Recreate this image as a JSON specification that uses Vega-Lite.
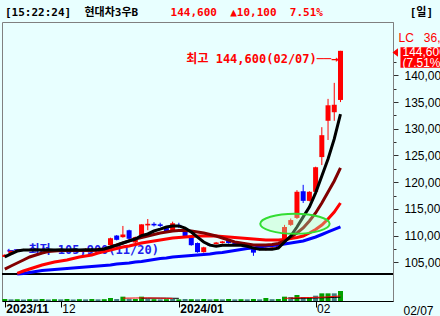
{
  "$schema": "https://vega.github.io/schema/vega-lite/v6.json",
  "width": 391,
  "height": 279,
  "autosize": "none",
  "padding": {"left": 2, "top": 22, "right": 47, "bottom": 15},
  "background": "#e8ffff",
  "title": {
    "text": "[15:22:24]\u00a0\u00a0현대차3우B\u00a0\u00a0\u00a0\u00a0\u00a0\u00a0\u00a0\u00a0\u00a0\u00a0\u00a0\u00a0\u00a0\u00a0\u00a0\u00a0\u00a0\u00a0\u00a0\u00a0\u00a0\u00a0\u00a0\u00a0\u00a0\u00a0\u00a0\u00a0\u00a0\u00a0\u00a0\u00a0\u00a0\u00a0\u00a0\u00a0\u00a0\u00a0\u00a0\u00a0\u00a0[일]",
    "subtitle": "\u200b\u00a0\u00a0\u00a0\u00a0\u00a0\u00a0\u00a0\u00a0\u00a0\u00a0\u00a0\u00a0\u00a0\u00a0\u00a0\u00a0\u00a0\u00a0\u00a0\u00a0\u00a0\u00a0\u00a0\u00a0\u00a0144,600\u00a0\u00a0▲10,100\u00a0\u00a07.51%",
    "anchor": "start",
    "frame": "group",
    "dx": 3,
    "offset": 4,
    "font": "DejaVu Sans Mono, Noto Sans CJK KR",
    "fontSize": 11,
    "fontWeight": "bold",
    "color": "#000000",
    "subtitleFont": "DejaVu Sans Mono, Noto Sans CJK KR",
    "subtitleFontSize": 11,
    "subtitleFontWeight": "bold",
    "subtitleColor": "#ff0000",
    "subtitlePadding": -11
  },
  "data": {"values": [
    {"date":"2023-11-20","open":106000,"high":106500,"low":105900,"close":106400,"ma5":106000,"ma10":103700,"ma20":null,"ma60":null,"volume":12000,"volTrend":"up","volMa5":null,"volMa20":null},
    {"date":"2023-11-21","open":106500,"high":107200,"low":106400,"close":107100,"ma5":106550,"ma10":104300,"ma20":null,"ma60":null,"volume":10000,"volTrend":"down","volMa5":null,"volMa20":null},
    {"date":"2023-11-22","open":107100,"high":107400,"low":107000,"close":107300,"ma5":107100,"ma10":104860,"ma20":102900,"ma60":102800,"volume":11000,"volTrend":"up","volMa5":null,"volMa20":null},
    {"date":"2023-11-23","open":107300,"high":107500,"low":107200,"close":107400,"ma5":107300,"ma10":105420,"ma20":103360,"ma60":102900,"volume":9000,"volTrend":"down","volMa5":null,"volMa20":null},
    {"date":"2023-11-24","open":107400,"high":107500,"low":107200,"close":107300,"ma5":107300,"ma10":105990,"ma20":103740,"ma60":103080,"volume":11000,"volTrend":"up","volMa5":null,"volMa20":null},
    {"date":"2023-11-27","open":107300,"high":107500,"low":107200,"close":107400,"ma5":107350,"ma10":106360,"ma20":104110,"ma60":103270,"volume":10000,"volTrend":"down","volMa5":null,"volMa20":null},
    {"date":"2023-11-28","open":107400,"high":107500,"low":107200,"close":107300,"ma5":107300,"ma10":106740,"ma20":104490,"ma60":103460,"volume":12000,"volTrend":"up","volMa5":null,"volMa20":null},
    {"date":"2023-11-29","open":107300,"high":107500,"low":107200,"close":107400,"ma5":107350,"ma10":107020,"ma20":104770,"ma60":103550,"volume":9000,"volTrend":"down","volMa5":null,"volMa20":null},
    {"date":"2023-11-30","open":107400,"high":107500,"low":107200,"close":107300,"ma5":107300,"ma10":107110,"ma20":105050,"ma60":103640,"volume":11000,"volTrend":"up","volMa5":null,"volMa20":null},
    {"date":"2023-12-01","open":107300,"high":107500,"low":107200,"close":107400,"ma5":107350,"ma10":107200,"ma20":105240,"ma60":103740,"volume":10000,"volTrend":"down","volMa5":null,"volMa20":null},
    {"date":"2023-12-04","open":107400,"high":107500,"low":107200,"close":107300,"ma5":107300,"ma10":107200,"ma20":105420,"ma60":103830,"volume":12000,"volTrend":"up","volMa5":null,"volMa20":null},
    {"date":"2023-12-05","open":107300,"high":107500,"low":107200,"close":107400,"ma5":107350,"ma10":107200,"ma20":105700,"ma60":103930,"volume":9000,"volTrend":"down","volMa5":null,"volMa20":null},
    {"date":"2023-12-06","open":107400,"high":107500,"low":107200,"close":107300,"ma5":107300,"ma10":107200,"ma20":105990,"ma60":104020,"volume":11000,"volTrend":"up","volMa5":null,"volMa20":null},
    {"date":"2023-12-07","open":107300,"high":107600,"low":107200,"close":107500,"ma5":107350,"ma10":107200,"ma20":106170,"ma60":104110,"volume":10000,"volTrend":"down","volMa5":null,"volMa20":null},
    {"date":"2023-12-08","open":107500,"high":107600,"low":107300,"close":107400,"ma5":107350,"ma10":107200,"ma20":106360,"ma60":104210,"volume":12000,"volTrend":"up","volMa5":null,"volMa20":null},
    {"date":"2023-12-11","open":107400,"high":107700,"low":107300,"close":107600,"ma5":107400,"ma10":107250,"ma20":106740,"ma60":104300,"volume":10000,"volTrend":"down","volMa5":null,"volMa20":null},
    {"date":"2023-12-12","open":107600,"high":107700,"low":107400,"close":107500,"ma5":107500,"ma10":107500,"ma20":107020,"ma60":104390,"volume":11000,"volTrend":"up","volMa5":null,"volMa20":null},
    {"date":"2023-12-13","open":108200,"high":109600,"low":108100,"close":109500,"ma5":107850,"ma10":107780,"ma20":107300,"ma60":104490,"volume":18000,"volTrend":"up","volMa5":null,"volMa20":null},
    {"date":"2023-12-14","open":110000,"high":110100,"low":109100,"close":109200,"ma5":108200,"ma10":108230,"ma20":107580,"ma60":104680,"volume":12000,"volTrend":"down","volMa5":null,"volMa20":null},
    {"date":"2023-12-15","open":109700,"high":111800,"low":109600,"close":110200,"ma5":108600,"ma10":108600,"ma20":107860,"ma60":104770,"volume":26000,"volTrend":"up","volMa5":17000,"volMa20":null},
    {"date":"2023-12-18","open":111000,"high":111100,"low":109200,"close":109400,"ma5":109000,"ma10":108980,"ma20":108050,"ma60":104860,"volume":14000,"volTrend":"down","volMa5":17500,"volMa20":null},
    {"date":"2023-12-19","open":108700,"high":109800,"low":108600,"close":109700,"ma5":109350,"ma10":109350,"ma20":108330,"ma60":105050,"volume":12000,"volTrend":"up","volMa5":18000,"volMa20":null},
    {"date":"2023-12-20","open":109800,"high":112100,"low":109700,"close":112100,"ma5":110000,"ma10":109640,"ma20":108610,"ma60":105140,"volume":26000,"volTrend":"up","volMa5":18500,"volMa20":16500},
    {"date":"2023-12-21","open":111900,"high":113100,"low":111000,"close":112200,"ma5":110300,"ma10":109920,"ma20":108800,"ma60":105330,"volume":14000,"volTrend":"down","volMa5":18500,"volMa20":17000},
    {"date":"2023-12-22","open":112200,"high":112500,"low":111700,"close":111900,"ma5":110850,"ma10":110200,"ma20":108980,"ma60":105520,"volume":11000,"volTrend":"up","volMa5":18000,"volMa20":17000},
    {"date":"2023-12-26","open":112100,"high":112400,"low":111600,"close":111800,"ma5":111200,"ma10":110480,"ma20":109170,"ma60":105710,"volume":10000,"volTrend":"down","volMa5":17500,"volMa20":17000},
    {"date":"2023-12-27","open":111400,"high":111500,"low":110600,"close":110700,"ma5":111600,"ma10":110670,"ma20":109360,"ma60":105800,"volume":11000,"volTrend":"up","volMa5":16500,"volMa20":17000},
    {"date":"2023-12-28","open":111000,"high":112600,"low":110800,"close":112300,"ma5":111800,"ma10":110860,"ma20":109550,"ma60":105990,"volume":12000,"volTrend":"down","volMa5":15500,"volMa20":16500},
    {"date":"2024-01-02","open":112000,"high":112400,"low":111400,"close":111700,"ma5":111800,"ma10":110950,"ma20":109640,"ma60":106080,"volume":10000,"volTrend":"up","volMa5":null,"volMa20":16000},
    {"date":"2024-01-03","open":110700,"high":110900,"low":109600,"close":109700,"ma5":111400,"ma10":110950,"ma20":109730,"ma60":106170,"volume":12000,"volTrend":"down","volMa5":null,"volMa20":null},
    {"date":"2024-01-04","open":109700,"high":109800,"low":108100,"close":108200,"ma5":110650,"ma10":110860,"ma20":109830,"ma60":106270,"volume":11000,"volTrend":"up","volMa5":null,"volMa20":null},
    {"date":"2024-01-05","open":108600,"high":108700,"low":106800,"close":106900,"ma5":109700,"ma10":110670,"ma20":109920,"ma60":106360,"volume":10000,"volTrend":"down","volMa5":null,"volMa20":null},
    {"date":"2024-01-08","open":106900,"high":107900,"low":106800,"close":107800,"ma5":108800,"ma10":110480,"ma20":109920,"ma60":106450,"volume":12000,"volTrend":"up","volMa5":null,"volMa20":null},
    {"date":"2024-01-09","open":108400,"high":108500,"low":108000,"close":108100,"ma5":108200,"ma10":110200,"ma20":109920,"ma60":106550,"volume":10000,"volTrend":"down","volMa5":null,"volMa20":null},
    {"date":"2024-01-10","open":108400,"high":108800,"low":108300,"close":108700,"ma5":108000,"ma10":109920,"ma20":109920,"ma60":106740,"volume":11000,"volTrend":"up","volMa5":null,"volMa20":null},
    {"date":"2024-01-11","open":108600,"high":109000,"low":108500,"close":108900,"ma5":108200,"ma10":109540,"ma20":109830,"ma60":106830,"volume":10000,"volTrend":"down","volMa5":null,"volMa20":null},
    {"date":"2024-01-12","open":109100,"high":109200,"low":108500,"close":108600,"ma5":108200,"ma10":109170,"ma20":109730,"ma60":107020,"volume":12000,"volTrend":"up","volMa5":null,"volMa20":null},
    {"date":"2024-01-15","open":108600,"high":108700,"low":108200,"close":108300,"ma5":108200,"ma10":108800,"ma20":109640,"ma60":107200,"volume":10000,"volTrend":"down","volMa5":null,"volMa20":null},
    {"date":"2024-01-16","open":108300,"high":108500,"low":108100,"close":108400,"ma5":108200,"ma10":108600,"ma20":109550,"ma60":107390,"volume":11000,"volTrend":"up","volMa5":null,"volMa20":null},
    {"date":"2024-01-17","open":108400,"high":108500,"low":107900,"close":108000,"ma5":108000,"ma10":108420,"ma20":109450,"ma60":107580,"volume":10000,"volTrend":"down","volMa5":null,"volMa20":null},
    {"date":"2024-01-18","open":107500,"high":107600,"low":106200,"close":106800,"ma5":107650,"ma10":108230,"ma20":109360,"ma60":107670,"volume":12000,"volTrend":"up","volMa5":null,"volMa20":null},
    {"date":"2024-01-19","open":107700,"high":107800,"low":107200,"close":107300,"ma5":107450,"ma10":108230,"ma20":109270,"ma60":107860,"volume":10000,"volTrend":"down","volMa5":null,"volMa20":null},
    {"date":"2024-01-22","open":107300,"high":107800,"low":107200,"close":107700,"ma5":107450,"ma10":108230,"ma20":109170,"ma60":108050,"volume":18000,"volTrend":"up","volMa5":null,"volMa20":null},
    {"date":"2024-01-23","open":107700,"high":108000,"low":107500,"close":107800,"ma5":107450,"ma10":108330,"ma20":109170,"ma60":108140,"volume":11000,"volTrend":"down","volMa5":null,"volMa20":null},
    {"date":"2024-01-24","open":107800,"high":108400,"low":107600,"close":108200,"ma5":107650,"ma10":108510,"ma20":109170,"ma60":108230,"volume":12000,"volTrend":"up","volMa5":null,"volMa20":null},
    {"date":"2024-01-25","open":109200,"high":112000,"low":109000,"close":111600,"ma5":108800,"ma10":108980,"ma20":109270,"ma60":108420,"volume":26000,"volTrend":"up","volMa5":16000,"volMa20":null},
    {"date":"2024-01-26","open":112000,"high":113200,"low":111800,"close":112900,"ma5":109900,"ma10":109730,"ma20":109450,"ma60":108610,"volume":24000,"volTrend":"down","volMa5":17500,"volMa20":15500},
    {"date":"2024-01-29","open":113300,"high":118500,"low":113100,"close":118200,"ma5":111600,"ma10":110480,"ma20":109640,"ma60":108800,"volume":36000,"volTrend":"up","volMa5":19000,"volMa20":16000},
    {"date":"2024-01-30","open":118300,"high":119500,"low":116100,"close":116500,"ma5":113500,"ma10":111420,"ma20":109920,"ma60":108980,"volume":24000,"volTrend":"down","volMa5":20000,"volMa20":16500},
    {"date":"2024-01-31","open":116500,"high":118300,"low":116400,"close":118200,"ma5":115350,"ma10":112730,"ma20":110480,"ma60":109360,"volume":20000,"volTrend":"up","volMa5":21000,"volMa20":17000},
    {"date":"2024-02-01","open":118200,"high":122900,"low":118000,"close":122800,"ma5":118000,"ma10":114230,"ma20":111140,"ma60":109730,"volume":32000,"volTrend":"down","volMa5":22000,"volMa20":18000},
    {"date":"2024-02-02","open":124700,"high":130300,"low":123200,"close":128800,"ma5":121150,"ma10":116100,"ma20":111980,"ma60":110200,"volume":46000,"volTrend":"up","volMa5":23000,"volMa20":19000},
    {"date":"2024-02-05","open":131500,"high":135600,"low":127900,"close":134400,"ma5":124350,"ma10":118160,"ma20":113100,"ma60":110670,"volume":46000,"volTrend":"up","volMa5":25000,"volMa20":20000},
    {"date":"2024-02-06","open":133100,"high":138600,"low":131500,"close":134500,"ma5":128100,"ma10":120220,"ma20":114410,"ma60":111140,"volume":46000,"volTrend":"down","volMa5":27000,"volMa20":21500},
    {"date":"2024-02-07","open":135400,"high":144600,"low":135000,"close":144600,"ma5":132750,"ma10":122660,"ma20":116100,"ma60":111610,"volume":60000,"volTrend":"up","volMa5":31000,"volMa20":23000}
  ]},
  "layer": [
    {
      "mark": {"type": "rule", "color": "#000000", "strokeWidth": 1},
      "encoding": {
        "y": {"datum": 102800, "type": "quantitative", "scale": {"domain": [102800, 150000], "range": [252, 0], "nice": false, "zero": false}, "axis": null}
      }
    },
    {
      "encoding": {
        "x": {"field": "date", "type": "ordinal",
          "scale": {"type": "point", "padding": 0.45, "domain": ["2023-11-20","2023-11-21","2023-11-22","2023-11-23","2023-11-24","2023-11-27","2023-11-28","2023-11-29","2023-11-30","2023-12-01","2023-12-04","2023-12-05","2023-12-06","2023-12-07","2023-12-08","2023-12-11","2023-12-12","2023-12-13","2023-12-14","2023-12-15","2023-12-18","2023-12-19","2023-12-20","2023-12-21","2023-12-22","2023-12-26","2023-12-27","2023-12-28","2024-01-02","2024-01-03","2024-01-04","2024-01-05","2024-01-08","2024-01-09","2024-01-10","2024-01-11","2024-01-12","2024-01-15","2024-01-16","2024-01-17","2024-01-18","2024-01-19","2024-01-22","2024-01-23","2024-01-24","2024-01-25","2024-01-26","2024-01-29","2024-01-30","2024-01-31","2024-02-01","2024-02-02","2024-02-05","2024-02-06","2024-02-07","2024-02-08","2024-02-13","2024-02-14","2024-02-15","2024-02-16","2024-02-19","2024-02-20","2024-02-21"]},
          "axis": {"values": ["2023-11-20","2023-12-01","2024-01-02","2024-02-01"],
            "labelExpr": "datum.value == '2023-11-20' ? '2023/11' : datum.value == '2023-12-01' ? '12' : datum.value == '2024-01-02' ? '2024/01' : '02'",
            "title": null, "domainColor": "#000000", "tickColor": "#000000", "tickSize": 6, "labelAngle": 0,
            "labelAlign": "left", "labelBaseline": "top", "labelPadding": -4, "labelOffset": 1,
            "labelFont": "Liberation Sans", "labelFontSize": 12, "labelColor": "#000000",
            "labelFontWeight": {"condition": {"test": "datum.value == '2023-11-20' || datum.value == '2024-01-02'", "value": "bold"}, "value": "normal"},
            "labelOverlap": false, "labelFlush": false, "grid": false}
        }
      },
      "layer": [
        {
          "transform": [{"filter": "datum.date == '2023-11-20'"}],
          "mark": {"type": "text", "text": "←──최저 105,900(11/20)", "align": "left", "baseline": "middle", "dx": 2, "dy": -7, "font": "DejaVu Sans Mono, Noto Sans CJK KR", "fontSize": 12, "fontWeight": "bold", "color": "#2020ee"},
          "encoding": {"y": {"field": "low", "type": "quantitative", "scale": {"domain": [102800, 150000], "range": [252, 0], "nice": false, "zero": false},
              "axis": {"orient": "right", "title": null, "grid": false, "tickCount": 100,
                "values": [105000,107500,110000,112500,115000,117500,120000,122500,125000,127500,130000,132500,135000,137500,140000,142500],
                "labelExpr": "datum.value % 5000 == 0 ? format(datum.value, ',') : ''",
                "domainColor": "#808080", "tickColor": "#303030",
                "tickSize": {"condition": {"test": "datum.value % 5000 == 0", "value": 5}, "value": 3},
                "labelPadding": 6, "labelFont": "Liberation Sans", "labelFontSize": 12, "labelColor": "#000000", "labelAlign": "left", "labelAngle": 0, "labelOverlap": false, "labelFlush": false, "labelBound": false}}}
        },
        {
          "mark": {"type": "rule", "strokeWidth": 1},
          "encoding": {
            "y": {"field": "low", "type": "quantitative", "scale": {"domain": [102800, 150000], "range": [252, 0], "nice": false, "zero": false}},
            "y2": {"field": "high"},
            "color": {"condition": {"test": "datum.close >= datum.open", "value": "#ff0000"}, "value": "#0000ff"}
          }
        },
        {
          "mark": {"type": "bar", "size": 5},
          "encoding": {
            "y": {"field": "open", "type": "quantitative", "scale": {"domain": [102800, 150000], "range": [252, 0], "nice": false, "zero": false}},
            "y2": {"field": "close"},
            "color": {"condition": {"test": "datum.close >= datum.open", "value": "#ff0000"}, "value": "#0000ff"}
          }
        },
        {
          "mark": {"type": "line", "color": "#0000ff", "strokeWidth": 3},
          "encoding": {"y": {"field": "ma60", "type": "quantitative", "scale": {"domain": [102800, 150000], "range": [252, 0], "nice": false, "zero": false}}}
        },
        {
          "mark": {"type": "line", "color": "#ff0000", "strokeWidth": 3},
          "encoding": {"y": {"field": "ma20", "type": "quantitative", "scale": {"domain": [102800, 150000], "range": [252, 0], "nice": false, "zero": false}}}
        },
        {
          "mark": {"type": "line", "color": "#800000", "strokeWidth": 3},
          "encoding": {"y": {"field": "ma10", "type": "quantitative", "scale": {"domain": [102800, 150000], "range": [252, 0], "nice": false, "zero": false}}}
        },
        {
          "mark": {"type": "line", "color": "#000000", "strokeWidth": 3},
          "encoding": {"y": {"field": "ma5", "type": "quantitative", "scale": {"domain": [102800, 150000], "range": [252, 0], "nice": false, "zero": false}}}
        },
        {
          "transform": [{"filter": "datum.date == '2024-01-26'"}],
          "mark": {"type": "point", "shape": "M-3.05,0 A3.47,1 0 1,1 3.89,0 A3.47,1 0 1,1 -3.05,0 Z", "size": 400, "filled": true, "fill": "#b8ffb8", "fillOpacity": 0.35, "stroke": "#33dd33", "strokeWidth": 2, "opacity": 1},
          "encoding": {"y": {"datum": 112200, "type": "quantitative", "scale": {"domain": [102800, 150000], "range": [252, 0], "nice": false, "zero": false}}}
        },
        {
          "transform": [{"filter": "datum.date == '2024-02-07'"}],
          "mark": {"type": "text", "text": "최고 144,600(02/07)──→", "align": "right", "baseline": "middle", "dx": -2, "dy": 8, "font": "DejaVu Sans Mono, Noto Sans CJK KR", "fontSize": 12, "fontWeight": "bold", "color": "#ff0000"},
          "encoding": {"y": {"field": "high", "type": "quantitative", "scale": {"domain": [102800, 150000], "range": [252, 0], "nice": false, "zero": false}}}
        },
        {
          "transform": [{"filter": "datum.date == '2024-02-07'"}],
          "mark": {"type": "point", "shape": "M6.0,-0.36 L10.5,-0.36 L10.5,1.7 L6.0,1.7 Z M5.2,0.17 L5.75,-0.25 L5.75,0.6 Z", "size": 400, "filled": true, "fill": "#ff0000", "strokeWidth": 0, "opacity": 1},
          "encoding": {"y": {"field": "high", "type": "quantitative", "scale": {"domain": [102800, 150000], "range": [252, 0], "nice": false, "zero": false}}}
        },
        {
          "transform": [{"filter": "datum.date == '2024-02-07'"}],
          "mark": {"type": "text", "text": "144,600", "align": "left", "baseline": "middle", "dx": 62, "dy": 1, "font": "Liberation Sans", "fontSize": 12, "color": "#ffffff"},
          "encoding": {"y": {"field": "high", "type": "quantitative", "scale": {"domain": [102800, 150000], "range": [252, 0], "nice": false, "zero": false}}}
        },
        {
          "transform": [{"filter": "datum.date == '2024-02-07'"}],
          "mark": {"type": "text", "text": "(7.51%)", "align": "left", "baseline": "middle", "dx": 62, "dy": 12, "font": "Liberation Sans", "fontSize": 12, "color": "#ffffff"},
          "encoding": {"y": {"field": "high", "type": "quantitative", "scale": {"domain": [102800, 150000], "range": [252, 0], "nice": false, "zero": false}}}
        },
        {
          "transform": [{"filter": "datum.date == '2024-02-07'"}],
          "mark": {"type": "text", "text": "LC\u00a0\u00a0\u00a036,", "align": "left", "baseline": "middle", "dx": 58, "font": "Liberation Sans", "fontSize": 12, "color": "#ff0000"},
          "encoding": {"y": {"datum": 147000, "type": "quantitative", "scale": {"domain": [102800, 150000], "range": [252, 0], "nice": false, "zero": false}}}
        }
      ]
    },
    {
      "encoding": {
        "x": {"field": "date", "type": "ordinal",
          "scale": {"type": "point", "padding": 0.45, "domain": ["2023-11-20","2023-11-21","2023-11-22","2023-11-23","2023-11-24","2023-11-27","2023-11-28","2023-11-29","2023-11-30","2023-12-01","2023-12-04","2023-12-05","2023-12-06","2023-12-07","2023-12-08","2023-12-11","2023-12-12","2023-12-13","2023-12-14","2023-12-15","2023-12-18","2023-12-19","2023-12-20","2023-12-21","2023-12-22","2023-12-26","2023-12-27","2023-12-28","2024-01-02","2024-01-03","2024-01-04","2024-01-05","2024-01-08","2024-01-09","2024-01-10","2024-01-11","2024-01-12","2024-01-15","2024-01-16","2024-01-17","2024-01-18","2024-01-19","2024-01-22","2024-01-23","2024-01-24","2024-01-25","2024-01-26","2024-01-29","2024-01-30","2024-01-31","2024-02-01","2024-02-02","2024-02-05","2024-02-06","2024-02-07","2024-02-08","2024-02-13","2024-02-14","2024-02-15","2024-02-16","2024-02-19","2024-02-20","2024-02-21"]}
        }
      },
      "layer": [
        {
          "mark": {"type": "bar", "size": 5},
          "encoding": {
            "y": {"field": "volume", "type": "quantitative", "scale": {"domain": [0, 150000], "range": [279, 254], "nice": false, "zero": true}, "axis": null},
            "color": {"field": "volTrend", "type": "nominal", "scale": {"domain": ["up", "down"], "range": ["#00a000", "#408080"]}, "legend": null}
          }
        },
        {
          "mark": {"type": "line", "color": "#000000", "strokeWidth": 1},
          "encoding": {"y": {"field": "volMa20", "type": "quantitative", "scale": {"domain": [0, 150000], "range": [279, 254], "nice": false, "zero": true}}}
        },
        {
          "mark": {"type": "line", "color": "#ff0000", "strokeWidth": 1},
          "encoding": {"y": {"field": "volMa5", "type": "quantitative", "scale": {"domain": [0, 150000], "range": [279, 254], "nice": false, "zero": true}}}
        },
        {
          "transform": [{"filter": "datum.date == '2024-02-07'"}],
          "mark": {"type": "text", "text": "02/07", "align": "left", "baseline": "middle", "dx": 63, "dy": 10, "font": "Liberation Sans", "fontSize": 12, "color": "#000000"},
          "encoding": {"y": {"datum": 0, "type": "quantitative", "scale": {"domain": [0, 150000], "range": [279, 254], "nice": false, "zero": true}}}
        }
      ]
    }
  ],
  "resolve": {"scale": {"y": "independent"}},
  "config": {
    "view": {"fill": "#e8ffff", "stroke": "#808080", "strokeWidth": 1},
    "axisY": {"labelOverlap": false},
    "axis": {"labelOverlap": false}
  }
}
